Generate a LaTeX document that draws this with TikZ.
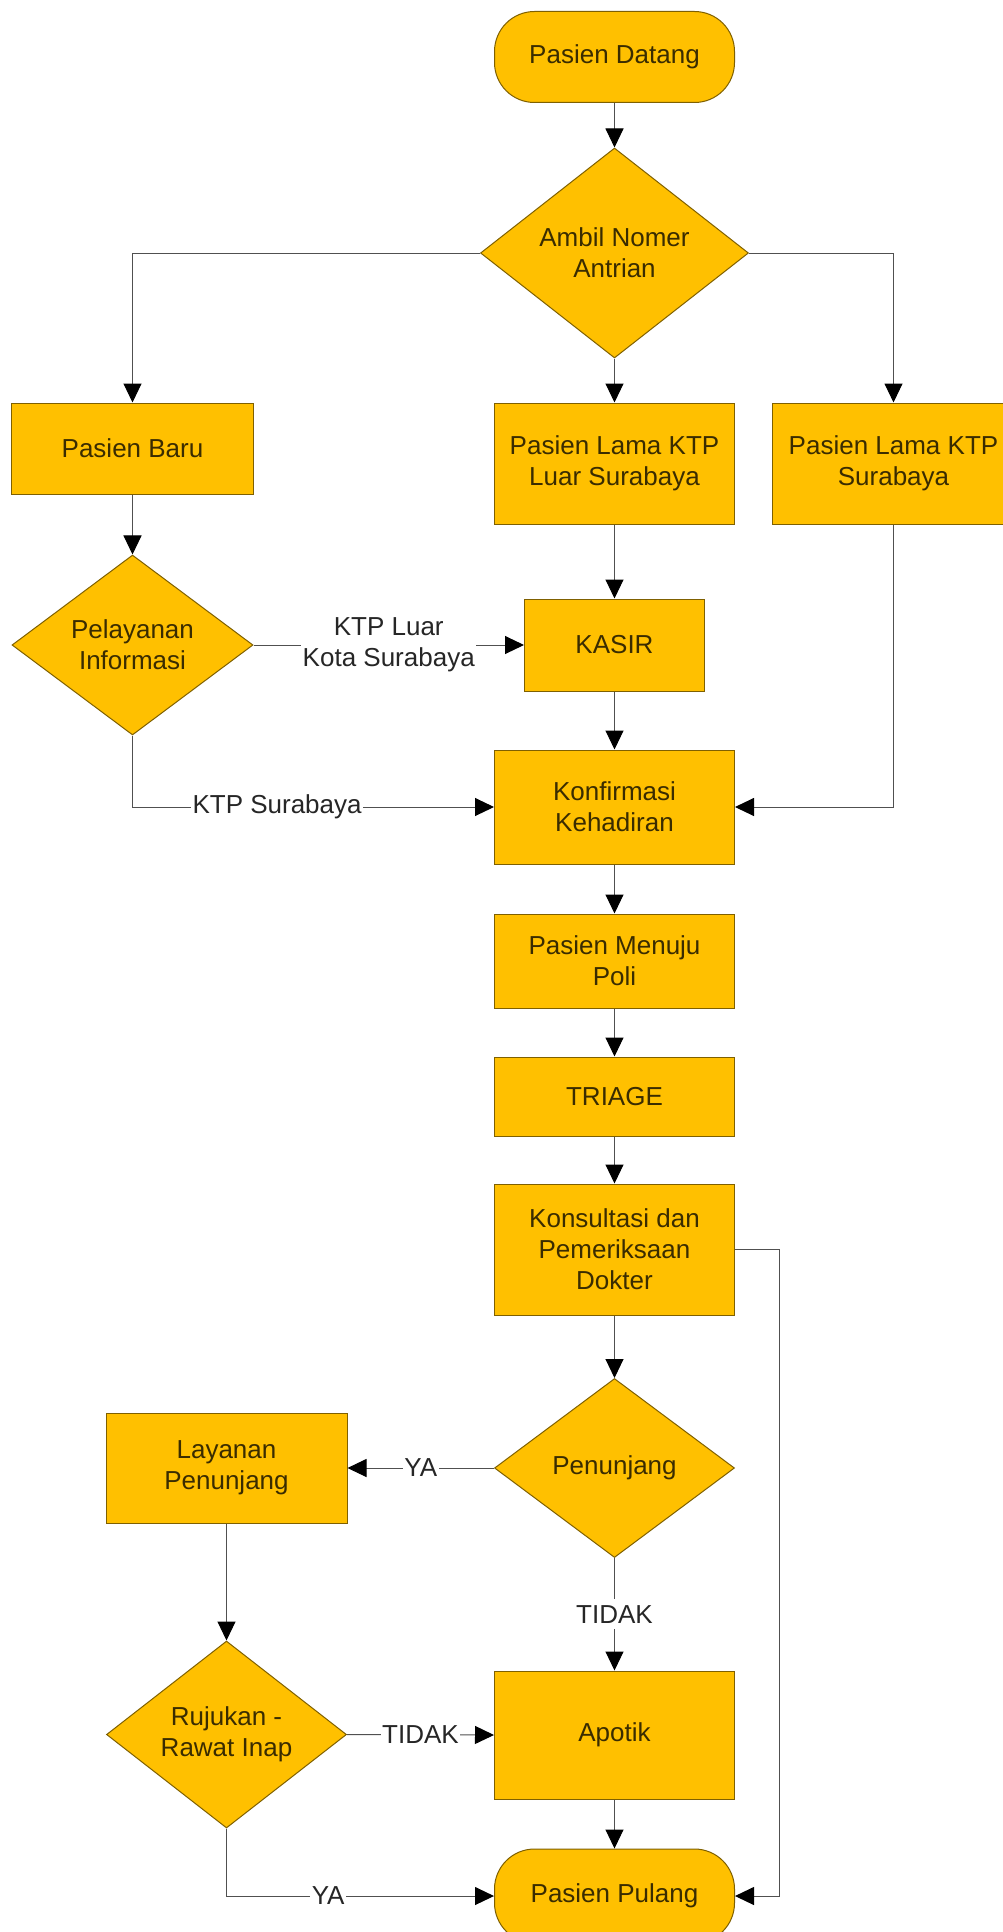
\documentclass[tikz,border=0pt]{standalone}
\usepackage{fontspec}
\setmainfont{Liberation Sans}
\usetikzlibrary{arrows.meta}
\usetikzlibrary{shapes.geometric}
\definecolor{boxfill}{HTML}{FFC000}
\definecolor{boxline}{HTML}{7F6000}
\definecolor{boxtext}{HTML}{3A2C00}
\definecolor{linegray}{HTML}{505050}
\tikzset{proc/.style = {draw = boxline, fill = boxfill, text = boxtext, line width = 1pt, align = center, inner sep = 0, font = \fontsize{26}{31}\selectfont}}
\tikzset{term/.style = {proc, rounded corners = 40pt}}
\tikzset{decide/.style = {proc, diamond}}
\tikzset{flow/.style = {draw = linegray, line width = 1pt, -{Triangle[length = 19pt, width = 18pt, color = black]}}}
\tikzset{lbl/.style = {fill = white, inner sep = 1.5pt, text = black!85, align = center, font = \fontsize{26}{31}\selectfont}}

\begin{document}
\begin{tikzpicture}[x = 1pt, y = -1pt]
    \clip (0, 0) rectangle (1003, 1932);
    \fill[white] (0, 0) rectangle (1003, 1932);

    \node[term, minimum width = 240, minimum height = 91] (datang) at (614.5, 57) {Pasien Datang};
    \node[decide, minimum width = 268, minimum height = 210] (ambil) at (614.5, 253) {Ambil Nomer\\Antrian};
    \node[proc, minimum width = 242, minimum height = 91] (baru) at (132.5, 448.5) {Pasien Baru};
    \node[proc, minimum width = 240, minimum height = 121] (luar) at (614.5, 463.5) {Pasien Lama KTP\\Luar Surabaya};
    \node[proc, minimum width = 242, minimum height = 121] (sby) at (893.5, 463.5) {Pasien Lama KTP\\Surabaya};
    \node[decide, minimum width = 241, minimum height = 180] (info) at (132.5, 645) {Pelayanan\\Informasi};
    \node[proc, minimum width = 180, minimum height = 92] (kasir) at (614.5, 645) {KASIR};
    \node[proc, minimum width = 240, minimum height = 114] (konfirm) at (614.5, 807) {Konfirmasi\\Kehadiran};
    \node[proc, minimum width = 240, minimum height = 94] (poli) at (614.5, 961) {Pasien Menuju\\Poli};
    \node[proc, minimum width = 240, minimum height = 79] (triage) at (614.5, 1096.5) {TRIAGE};
    \node[proc, minimum width = 240, minimum height = 131] (konsul) at (614.5, 1249.5) {Konsultasi dan\\Pemeriksaan\\Dokter};
    \node[decide, minimum width = 240, minimum height = 179] (tunjang) at (614.5, 1468) {Penunjang};
    \node[proc, minimum width = 241, minimum height = 110] (layanan) at (226.5, 1468) {Layanan\\Penunjang};
    \node[decide, minimum width = 240, minimum height = 187] (rujuk) at (226.5, 1734.5) {Rujukan -\\Rawat Inap};
    \node[proc, minimum width = 240, minimum height = 128] (apotik) at (614.5, 1735) {Apotik};
    \node[term, minimum width = 240, minimum height = 94] (pulang) at (614.5, 1896) {Pasien Pulang};
    \coordinate (balik) at (779, 1249.5);

    \draw[flow] (datang) -- (ambil);
    \draw[flow] (ambil.west) -| (baru.north);
    \draw[flow] (ambil) -- (luar);
    \draw[flow] (ambil.east) -| (sby.north);
    \draw[flow] (baru) -- (info);
    \draw[flow] (info.east) -- node[lbl] {KTP Luar\\Kota Surabaya} (kasir.west);
    \draw[flow] (luar) -- (kasir);
    \draw[flow] (kasir) -- (konfirm);
    \draw[flow] (info.south) |- node[lbl, pos = 0.7] {KTP Surabaya} (konfirm.west);
    \draw[flow] (sby.south) |- (konfirm.east);
    \draw[flow] (konfirm) -- (poli);
    \draw[flow] (poli) -- (triage);
    \draw[flow] (triage) -- (konsul);
    \draw[flow] (konsul) -- (tunjang);
    \draw[flow] (tunjang.west) -- node[lbl] {YA} (layanan.east);
    \draw[flow] (tunjang.south) -- node[lbl, inner sep = 6pt] {TIDAK} (apotik.north);
    \draw[flow] (layanan) -- (rujuk);
    \draw[flow] (rujuk.east) -- node[lbl] {TIDAK} (apotik.west);
    \draw[flow] (rujuk.south) |- node[lbl, pos = 0.69] {YA} (pulang.west);
    \draw[flow] (apotik) -- (pulang);
    \draw[flow] (konsul.east) -- (balik) |- (pulang.east);
\end{tikzpicture}
\end{document}
